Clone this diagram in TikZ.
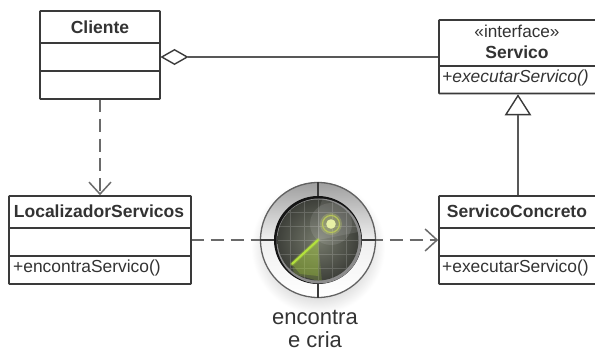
\documentclass[tikz,border=0pt]{standalone}
\usepackage{fontspec}
\setmainfont{Liberation Sans}
\usetikzlibrary{arrows.meta,shapes.geometric}
\definecolor{ln}{HTML}{3A3A3A}
\definecolor{tx}{HTML}{333333}
\definecolor{dashgray}{HTML}{6A6A6A}
\definecolor{discin}{HTML}{767A6C}
\definecolor{discout}{HTML}{3E403A}
\definecolor{sweepc}{HTML}{B4E23C}
\definecolor{blipc}{HTML}{D6E66A}
\tikzset{
  x=1pt,y=-1pt,
  umlbox/.style={draw=ln,line width=1.6pt,inner sep=0pt,rounded corners=0.6pt},
  umlline/.style={draw=ln,line width=1.6pt},
  classtitle/.style={text=tx,font=\fontsize{17.5}{18}\selectfont\bfseries,inner sep=0pt,anchor=center},
  member/.style={text=tx,font=\fontsize{17.4}{18}\selectfont,inner sep=0pt,anchor=west},
  conn/.style={draw=ln!85!white,line width=1.6pt},
  dashconn/.style={draw=dashgray,line width=2.4pt,dash pattern=on 13pt off 6.9pt,dash phase=1pt},
  openhead/.style={-{Straight Barb[length=12pt,width=22pt,line width=1.5pt]}},
  caption/.style={text=tx,font=\fontsize{22}{23.5}\selectfont,inner sep=0pt},
}
\begin{document}
\begin{tikzpicture}
\useasboundingbox (0,0) rectangle (595,350);
\clip (0,0) rectangle (595,350);
\fill[white] (0,0) rectangle (595,350);

% radar shadow goes under the connector
\coordinate (r) at (318,240);
\shade[inner color=black!50,outer color=white] (318,247) circle (67);

% class boxes
\node[umlbox,minimum width=120pt,minimum height=88pt] (cliente) at (100,55) {};
\node[umlbox,minimum width=158pt,minimum height=73.5pt] (servico) at (518,56.75) {};
\node[umlbox,minimum width=182pt,minimum height=88pt] (local) at (100,240) {};
\node[umlbox,minimum width=158pt,minimum height=88pt] (concreto) at (518,240) {};

% connectors
\node[diamond,draw=ln,fill=white,line width=1.4pt,minimum width=26pt,minimum height=15pt,inner sep=0pt,aspect=1.7,anchor=west] (dia) at (cliente.east |- 0,57) {};
\draw[conn] (dia.east) -- (dia.east -| servico.west);
\draw[dashconn,openhead] (cliente.south) -- (local.north);
\draw[dashconn,openhead] (local.east) -- (concreto.west);
\node[isosceles triangle,isosceles triangle apex angle=65,shape border rotate=90,draw=ln,fill=white,line width=1.4pt,minimum height=19pt,minimum width=24pt,inner sep=0pt,anchor=apex] (tri) at (servico.south) {};
\draw[conn] (concreto.north) -- (tri.south);

% Cliente
\draw[umlline] (40,43) -- (160,43) (40,71) -- (160,71);
\node[classtitle] (t1) at (100,27) {Cliente};

% Servico
\draw[umlline] (439,66) -- (597,66);
\node[text=tx,font=\fontsize{17.2}{18}\selectfont,inner sep=0pt] (t2a) at (517,31) {«interface»};
\node[classtitle] (t2) at (517,52) {Servico};
\node[member,font=\fontsize{17.4}{18}\selectfont\itshape] (t2b) at (442,78) {+executarServico()};

% Localizador
\draw[umlline] (9,228) -- (191,228) (9,256) -- (191,256);
\node[classtitle] (t3) at (99,211) {LocalizadorServicos};
\node[member] (t3b) at (13,268) {+encontraServico()};

% ServicoConcreto
\draw[umlline] (439,228) -- (597,228) (439,256) -- (597,256);
\node[classtitle] (t4) at (517,211) {ServicoConcreto};
\node[member] (t4b) at (442,268) {+executarServico()};

% Radar
\shade[top color=black!38,bottom color=white,middle color=black!6] (r) circle (58);
\draw[black!62,line width=1.3pt] (r) circle (57.5);
\draw[ln,line width=1.2pt] (318,182) -- (318,197) (318,283) -- (318,298) (260,240) -- (275,240) (361,240) -- (376,240);
\fill[black!92] (r) circle (44);
\fill[black!45] (319,241) circle (42.5);
\shade[inner color=discin,outer color=discout] (318,240) circle (40.5);
\begin{scope}
\clip (r) circle (40.5);
\draw[white,opacity=.16,line width=.8pt] (278,212) -- (358,212) (278,226) -- (358,226) (278,240) -- (358,240) (278,254) -- (358,254) (278,268) -- (358,268)
 (290,200) -- (290,280) (304,200) -- (304,280) (318,200) -- (318,280) (332,200) -- (332,280) (346,200) -- (346,280);
\fill[sweepc,opacity=.2] (r) -- (292,264) -- (294,274) -- (322,282) -- cycle;
\fill[sweepc,opacity=.25] (r) -- (292,264) -- (300,274) -- (318,276) -- cycle;
\fill[white,opacity=.1] (r) -- (318,212) -- (322,200) -- (358,200) -- (358,232) -- cycle;
\fill[white,opacity=.1] (331,224) circle (21);
\end{scope}
\draw[sweepc,opacity=.3,line width=4pt,line cap=round] (r) -- ++(-26,24);
\draw[sweepc,line width=2pt,line cap=round] (r) -- ++(-26,24);
\fill[blipc,opacity=.25] (331,224) circle (11);
\draw[blipc!85!black,line width=1.2pt] (331,224) circle (8.5);
\fill[blipc!60!white] (331,224) circle (4.8);

\node[caption] (lbl1) at (315,317) {encontra};
\node[caption] (lbl2) at (315,340) {e cria};
\end{tikzpicture}
\end{document}
